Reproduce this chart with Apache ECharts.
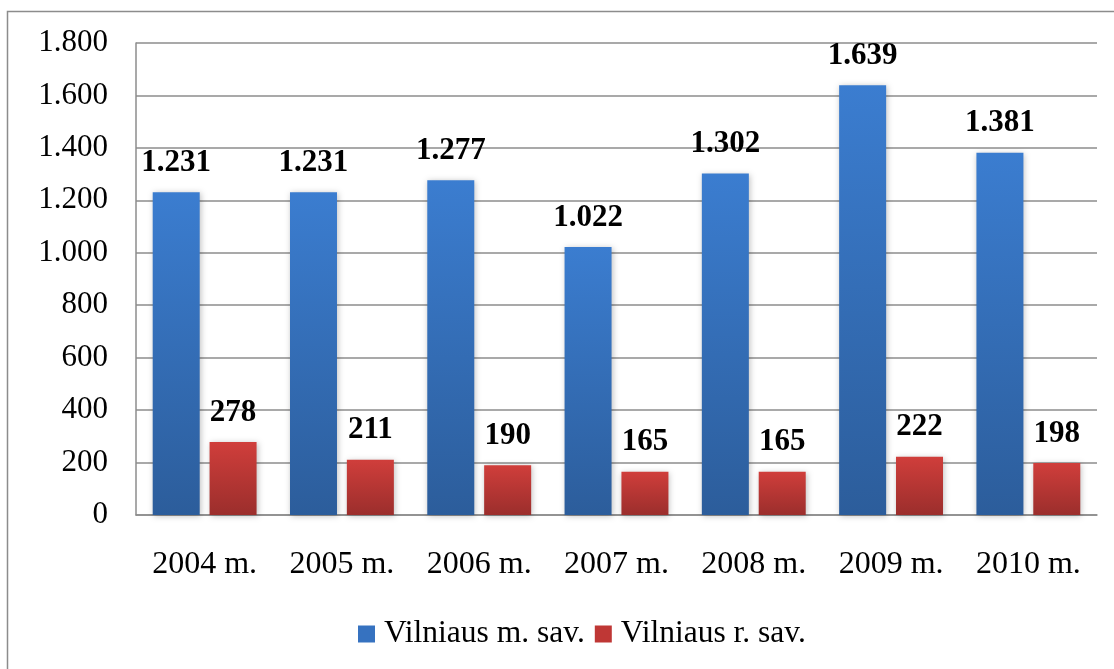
<!DOCTYPE html>
<html><head><meta charset="utf-8">
<script src="https://cdn.jsdelivr.net/npm/echarts@6/dist/echarts.min.js"></script>
<style>html,body{margin:0;padding:0;background:#fff}#c{width:1114px;height:669px}</style>
</head><body><div id="c"></div>
<script>
const categories = ['2004 m.', '2005 m.', '2006 m.', '2007 m.', '2008 m.', '2009 m.', '2010 m.'];
const seriesNames = ['Vilniaus m. sav.', 'Vilniaus r. sav.'];
const cityValues = [1231, 1231, 1277, 1022, 1302, 1639, 1381];
const districtValues = [278, 211, 190, 165, 165, 222, 198];
const yTicks = {min: 0, max: 1800, interval: 200};

const fmt = v => String(v).replace(/\B(?=(\d{3})+(?!\d))/g, '.');
const font = '"Liberation Serif", "Times New Roman", serif';
const grad = (top, bottom) => new echarts.graphic.LinearGradient(0, 0, 0, 1, [{offset: 0, color: top}, {offset: 1, color: bottom}]);
const blue = grad('#3b7dd0', '#2c5d9b');
const red = grad('#d03e3b', '#9b2e2c');

const chart = echarts.init(document.getElementById('c'));
const labelCfg = {show: true, position: 'top', distance: 14, formatter: p => fmt(p.value),
  fontFamily: font, fontSize: 31, fontWeight: 'bold', color: '#000'};
chart.setOption({
  animation: false,
  textStyle: {fontFamily: font},
  graphic: [{type: 'rect', shape: {x: 7.5, y: 11.5, width: 1120, height: 680},
    style: {fill: 'none', stroke: '#8c8c8c', lineWidth: 1.5}, silent: true}],
  grid: {left: 136, right: 17, top: 43, bottom: 154, containLabel: false},
  legend: {bottom: 14, left: 353, itemWidth: 17, itemHeight: 17, itemGap: 10,
    textStyle: {fontFamily: font, fontSize: 31.5, color: '#000', padding: [0, 0, 0, 4]},
    data: [{name: seriesNames[0], icon: 'rect', itemStyle: {color: '#3672c0'}},
           {name: seriesNames[1], icon: 'rect', itemStyle: {color: '#bf3735'}}]},
  xAxis: {type: 'category', data: categories,
    axisLine: {show: true, lineStyle: {color: '#8c8c8c', width: 1.5}},
    axisTick: {show: false},
    axisLabel: {margin: 34, fontFamily: font, fontSize: 32, color: '#000'}},
  yAxis: {type: 'value', min: yTicks.min, max: yTicks.max, interval: yTicks.interval,
    axisLine: {show: true, lineStyle: {color: '#8c8c8c', width: 1.5}},
    axisTick: {show: false},
    splitLine: {lineStyle: {color: '#8c8c8c', width: 1.5}},
    axisLabel: {margin: 28, fontFamily: font, fontSize: 31, color: '#000', formatter: v => fmt(v)}},
  series: [
    {name: seriesNames[0], type: 'bar', data: cityValues, barWidth: 47, barGap: '21%',
     itemStyle: {color: blue, shadowColor: 'rgba(0,0,0,0.25)', shadowBlur: 6, shadowOffsetX: 1, shadowOffsetY: 1},
     label: labelCfg},
    {name: seriesNames[1], type: 'bar', data: districtValues, barWidth: 47,
     itemStyle: {color: red, shadowColor: 'rgba(0,0,0,0.25)', shadowBlur: 6, shadowOffsetX: 1, shadowOffsetY: 1},
     label: labelCfg}
  ]
});
</script></body></html>
